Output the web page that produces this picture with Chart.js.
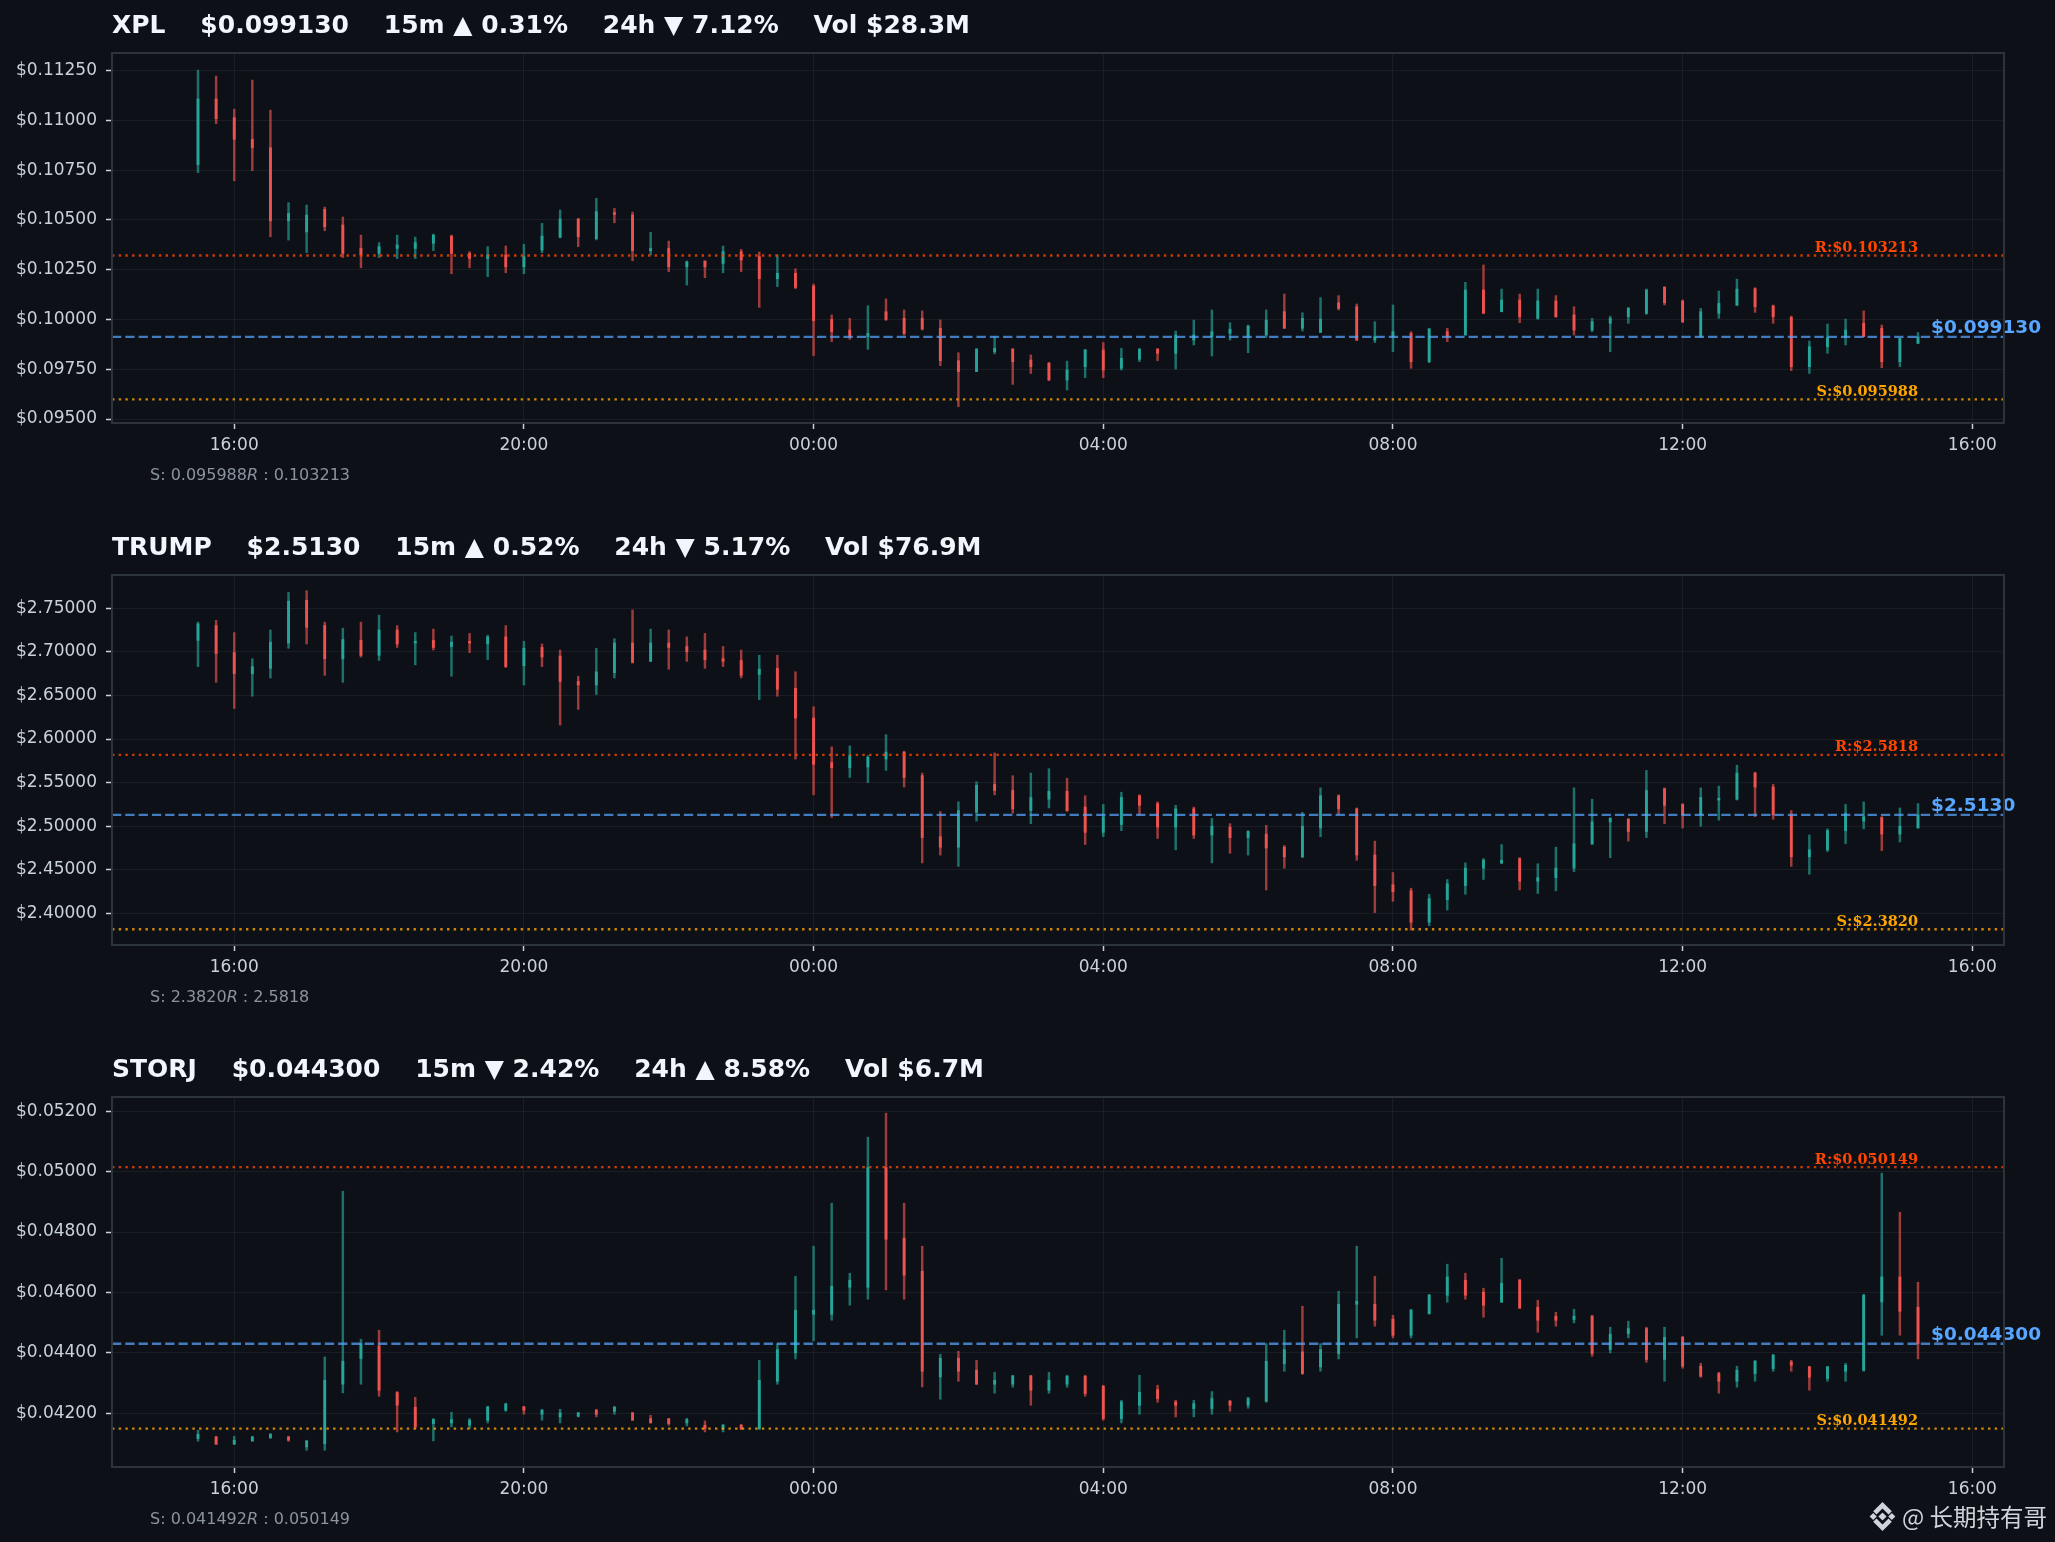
<!DOCTYPE html>
<html>
<head>
<meta charset="utf-8">
<title>XPL / TRUMP / STORJ 15m</title>
<script src="https://cdn.jsdelivr.net/npm/chart.js@4.4.1/dist/chart.umd.min.js"></script>
<style>
  html, body { margin: 0; padding: 0; background: #0d1117; }
  body { position: relative; width: 2055px; height: 1542px; overflow: hidden; font-family: "DejaVu Sans", sans-serif; }
  .panel { position: absolute; left: 0; width: 2055px; height: 522px; }
  .panel canvas { position: absolute; left: 0; top: 0; }
  .title { position: absolute; left: 112px; top: 12px; font-size: 25px; line-height: 1; font-weight: bold; color: #f0f6fc; white-space: pre; }
  .caption { position: absolute; left: 150px; top: 466.5px; font-size: 16px; line-height: 1; color: #8b949e; white-space: pre; }
  .watermark { position: absolute; right: 8px; top: 1502px; display: flex; align-items: center; color: #d0d4da; font-family: "Noto Sans CJK SC", sans-serif; font-size: 23.5px; line-height: 1; }
  .watermark svg { margin-right: 5px; }
</style>
</head>
<body>
<div class="panel" style="top:0px"><canvas id="c0" width="2055" height="522"></canvas><div class="title" id="t0"></div><div class="caption" id="s0"></div></div>
<div class="panel" style="top:522px"><canvas id="c1" width="2055" height="522"></canvas><div class="title" id="t1"></div><div class="caption" id="s1"></div></div>
<div class="panel" style="top:1044px"><canvas id="c2" width="2055" height="522"></canvas><div class="title" id="t2"></div><div class="caption" id="s2"></div></div>
<div class="watermark">
  <svg width="29" height="29" viewBox="14 10 98 106"><g fill="#d0d4da">
    <polygon points="63,48 78,63 63,78 48,63"/>
    <polygon points="16,63 29,50 42,63 29,76"/>
    <polygon points="84,63 97,50 110,63 97,76"/>
    <polygon points="63,10 97,44 85,56 63,34 41,56 29,44"/>
    <polygon points="63,116 97,82 85,70 63,92 41,70 29,82"/>
  </g></svg><span>@ 长期持有哥</span>
</div>
<script>
// 15m candles, index 0 = 15:30, last index = 15:15 next day
const timeTickPos = [2, 18, 34, 50, 66, 82, 98];
const timeTickLabels = ['16:00', '20:00', '00:00', '04:00', '08:00', '12:00', '16:00'];

// XPL
const xplOpen = [0.10778,0.11108,0.11014,0.10905,0.10863,0.10496,0.10440,0.10553,0.10475,0.10357,
  0.10332,0.10357,0.10357,0.10383,0.10419,0.10332,0.10307,0.10324,0.10265,0.10349,
  0.10414,0.10505,0.10406,0.10537,0.10525,0.10346,0.10357,0.10265,0.10294,0.10282,
  0.10341,0.10316,0.10205,0.10232,0.10168,0.10000,0.09947,0.09914,0.10039,0.10006,
  0.10006,0.09956,0.09793,0.09738,0.09838,0.09850,0.09796,0.09780,0.09696,0.09763,
  0.09847,0.09755,0.09800,0.09850,0.09830,0.09897,0.09914,0.09930,0.09914,0.09922,
  0.10039,0.09956,0.09935,0.10084,0.10064,0.09897,0.09914,0.09930,0.09788,0.09939,
  0.09922,0.10148,0.10039,0.10098,0.10006,0.10093,0.10023,0.09947,0.09981,0.10014,
  0.10031,0.10162,0.10093,0.09914,0.10031,0.10073,0.10155,0.10068,0.10011,0.09763,
  0.09863,0.09910,0.09981,0.09956,0.09788,0.09880];
const xplHigh = [0.11253,0.11223,0.11057,0.11203,0.11052,0.10587,0.10575,0.10565,0.10515,0.10424,
  0.10386,0.10424,0.10414,0.10429,0.10424,0.10341,0.10366,0.10369,0.10378,0.10483,
  0.10550,0.10508,0.10609,0.10558,0.10540,0.10438,0.10394,0.10294,0.10294,0.10369,
  0.10352,0.10339,0.10324,0.10255,0.10178,0.10023,0.10006,0.10069,0.10103,0.10048,
  0.10043,0.09998,0.09833,0.09855,0.09914,0.09855,0.09822,0.09785,0.09791,0.09850,
  0.09884,0.09855,0.09855,0.09855,0.09942,0.09997,0.10048,0.09984,0.09972,0.10048,
  0.10128,0.10034,0.10110,0.10120,0.10078,0.09989,0.10073,0.09939,0.09956,0.09956,
  0.10187,0.10274,0.10153,0.10128,0.10153,0.10120,0.10064,0.10006,0.10017,0.10061,
  0.10153,0.10165,0.10098,0.10056,0.10143,0.10203,0.10160,0.10073,0.10017,0.09892,
  0.09977,0.10002,0.10043,0.09972,0.09905,0.09934];
const xplLow = [0.10738,0.10984,0.10697,0.10748,0.10416,0.10399,0.10336,0.10446,0.10311,0.10260,
  0.10311,0.10306,0.10306,0.10346,0.10230,0.10260,0.10215,0.10235,0.10230,0.10336,
  0.10410,0.10366,0.10400,0.10486,0.10295,0.10324,0.10240,0.10173,0.10210,0.10235,
  0.10240,0.10061,0.10165,0.10155,0.09818,0.09889,0.09900,0.09850,0.09995,0.09922,
  0.09947,0.09768,0.09562,0.09738,0.09827,0.09674,0.09729,0.09693,0.09646,0.09708,
  0.09708,0.09746,0.09788,0.09793,0.09751,0.09872,0.09817,0.09897,0.09833,0.09910,
  0.09956,0.09942,0.09935,0.10048,0.09894,0.09884,0.09838,0.09755,0.09783,0.09889,
  0.09922,0.10031,0.10039,0.09984,0.10001,0.10011,0.09922,0.09939,0.09838,0.09981,
  0.10026,0.10073,0.09984,0.09910,0.10006,0.10069,0.10036,0.09981,0.09743,0.09729,
  0.09830,0.09872,0.09914,0.09758,0.09763,0.09880];
const xplClose = [0.11108,0.11009,0.10905,0.10863,0.10496,0.10533,0.10525,0.10466,0.10332,0.10324,
  0.10366,0.10374,0.10386,0.10424,0.10332,0.10307,0.10324,0.10265,0.10316,0.10419,
  0.10505,0.10416,0.10542,0.10528,0.10346,0.10357,0.10265,0.10290,0.10265,0.10341,
  0.10299,0.10205,0.10232,0.10161,0.09994,0.09939,0.09914,0.09930,0.10000,0.09930,
  0.09952,0.09793,0.09738,0.09850,0.09855,0.09788,0.09763,0.09696,0.09746,0.09847,
  0.09746,0.09805,0.09850,0.09830,0.09922,0.09922,0.09939,0.09951,0.09967,0.09997,
  0.09956,0.10006,0.10002,0.10056,0.09897,0.09914,0.09939,0.09788,0.09952,0.09914,
  0.10148,0.10031,0.10098,0.10014,0.10093,0.10014,0.09947,0.09989,0.10006,0.10056,
  0.10148,0.10084,0.09989,0.10039,0.10081,0.10153,0.10064,0.10014,0.09763,0.09863,
  0.09910,0.09947,0.09914,0.09788,0.09905,0.09913];
const xplTicks = [0.095, 0.0975, 0.1, 0.1025, 0.105, 0.1075, 0.11, 0.1125];
const xplLevels = [0.095988, 0.103213, 0.099130]; // support, resistance, last

// TRUMP
const trumpOpen = [2.713,2.730,2.699,2.675,2.681,2.710,2.759,2.730,2.692,2.713,
  2.696,2.725,2.710,2.713,2.706,2.712,2.709,2.717,2.684,2.705,
  2.695,2.666,2.662,2.676,2.710,2.689,2.710,2.706,2.702,2.692,
  2.690,2.674,2.681,2.658,2.624,2.573,2.567,2.568,2.577,2.585,
  2.558,2.488,2.476,2.516,2.548,2.541,2.518,2.531,2.540,2.522,
  2.493,2.502,2.535,2.526,2.499,2.520,2.490,2.499,2.487,2.491,
  2.476,2.465,2.498,2.535,2.520,2.467,2.433,2.426,2.390,2.416,
  2.432,2.452,2.458,2.463,2.437,2.441,2.452,2.480,2.505,2.508,
  2.494,2.543,2.525,2.513,2.530,2.531,2.561,2.545,2.513,2.465,
  2.473,2.495,2.506,2.510,2.491,2.498];
const trumpHigh = [2.734,2.736,2.722,2.692,2.725,2.768,2.770,2.734,2.727,2.734,
  2.742,2.730,2.722,2.726,2.718,2.721,2.719,2.730,2.712,2.709,
  2.702,2.672,2.704,2.715,2.748,2.726,2.725,2.717,2.721,2.706,
  2.702,2.696,2.696,2.677,2.637,2.591,2.592,2.581,2.605,2.586,
  2.561,2.517,2.528,2.551,2.584,2.558,2.561,2.566,2.555,2.535,
  2.525,2.539,2.536,2.528,2.524,2.522,2.509,2.503,2.495,2.501,
  2.478,2.516,2.544,2.536,2.521,2.483,2.447,2.429,2.422,2.439,
  2.458,2.463,2.479,2.464,2.457,2.476,2.544,2.531,2.510,2.509,
  2.564,2.544,2.526,2.544,2.546,2.570,2.562,2.548,2.518,2.490,
  2.497,2.525,2.528,2.511,2.521,2.526];
const trumpLow = [2.683,2.665,2.635,2.649,2.670,2.704,2.709,2.673,2.665,2.694,
  2.690,2.705,2.685,2.702,2.672,2.699,2.691,2.682,2.662,2.683,
  2.616,2.634,2.651,2.670,2.687,2.689,2.680,2.689,2.681,2.683,
  2.670,2.645,2.649,2.577,2.536,2.510,2.556,2.550,2.564,2.545,
  2.458,2.467,2.454,2.506,2.536,2.515,2.503,2.521,2.517,2.479,
  2.488,2.495,2.513,2.486,2.473,2.486,2.458,2.469,2.467,2.427,
  2.452,2.464,2.488,2.514,2.461,2.401,2.414,2.381,2.386,2.404,
  2.422,2.439,2.457,2.427,2.423,2.426,2.448,2.479,2.464,2.483,
  2.487,2.503,2.498,2.500,2.507,2.530,2.511,2.508,2.454,2.445,
  2.471,2.480,2.497,2.472,2.482,2.498];
const trumpClose = [2.732,2.698,2.675,2.683,2.711,2.758,2.728,2.692,2.714,2.696,
  2.725,2.709,2.712,2.705,2.711,2.710,2.717,2.683,2.704,2.694,
  2.666,2.662,2.677,2.710,2.688,2.710,2.705,2.700,2.691,2.689,
  2.673,2.680,2.657,2.624,2.571,2.567,2.581,2.579,2.585,2.556,
  2.487,2.476,2.518,2.547,2.541,2.520,2.533,2.540,2.518,2.493,
  2.511,2.533,2.524,2.499,2.520,2.490,2.500,2.487,2.494,2.475,
  2.465,2.500,2.535,2.520,2.467,2.432,2.425,2.390,2.417,2.434,
  2.452,2.461,2.461,2.437,2.441,2.452,2.480,2.505,2.509,2.494,
  2.541,2.524,2.513,2.533,2.532,2.561,2.545,2.513,2.465,2.473,
  2.495,2.515,2.511,2.491,2.500,2.513];
const trumpTicks = [2.40, 2.45, 2.50, 2.55, 2.60, 2.65, 2.70, 2.75];
const trumpLevels = [2.3820, 2.5818, 2.5130];

// STORJ
const storjOpen = [0.041161,0.041216,0.040973,0.041083,0.041194,0.041216,0.040885,0.040995,0.042960,0.043810,
  0.044229,0.042684,0.042198,0.041657,0.041679,0.041602,0.041768,0.042099,0.042209,0.041966,
  0.041878,0.041900,0.042099,0.042066,0.042011,0.041823,0.041812,0.041679,0.041602,0.041492,
  0.041602,0.041492,0.043059,0.043997,0.045278,0.045278,0.046172,0.046172,0.050135,0.047795,
  0.046702,0.043203,0.043821,0.043423,0.042960,0.042960,0.043236,0.042761,0.042960,0.043225,
  0.042894,0.041823,0.042264,0.042783,0.042375,0.042154,0.042154,0.042397,0.042264,0.042397,
  0.043644,0.044031,0.043534,0.043975,0.045609,0.045609,0.045112,0.044582,0.045300,0.045907,
  0.046404,0.046006,0.045675,0.046404,0.045510,0.045212,0.045101,0.045212,0.044108,0.044638,
  0.044803,0.043777,0.044516,0.043556,0.043313,0.043059,0.043313,0.043479,0.043699,0.043534,
  0.043148,0.043390,0.043423,0.045686,0.046514,0.045510];
const storjHigh = [0.041437,0.041238,0.041238,0.041238,0.041326,0.041238,0.041105,0.043865,0.049351,0.044450,
  0.044748,0.042717,0.042529,0.041823,0.042033,0.041823,0.042231,0.042331,0.042231,0.042132,
  0.042132,0.042033,0.042132,0.042231,0.042033,0.041933,0.041834,0.041834,0.041746,0.041635,
  0.041635,0.043755,0.044307,0.046536,0.047530,0.048954,0.046636,0.051139,0.051934,0.048954,
  0.047530,0.043953,0.044053,0.043755,0.043357,0.043258,0.043258,0.043357,0.043258,0.043258,
  0.042927,0.042430,0.043258,0.042927,0.042430,0.042430,0.042717,0.042430,0.042529,0.044307,
  0.044748,0.045543,0.044307,0.046039,0.047530,0.046536,0.045245,0.045443,0.045940,0.046934,
  0.046636,0.046139,0.047132,0.046437,0.045741,0.045344,0.045443,0.045245,0.044847,0.045046,
  0.044847,0.044847,0.044549,0.043655,0.043357,0.043556,0.043755,0.043953,0.043755,0.043556,
  0.043556,0.043655,0.045940,0.049947,0.048655,0.046338];
const storjLow = [0.041072,0.040973,0.040973,0.041072,0.041161,0.041072,0.040774,0.040774,0.042673,0.042960,
  0.042563,0.041381,0.041492,0.041083,0.041547,0.041492,0.041679,0.042066,0.041966,0.041768,
  0.041679,0.041878,0.041878,0.041966,0.041768,0.041679,0.041602,0.041580,0.041381,0.041381,
  0.041459,0.041459,0.042960,0.043799,0.044395,0.045079,0.045576,0.045775,0.046084,0.045775,
  0.042872,0.042463,0.043059,0.042960,0.042662,0.042861,0.042264,0.042662,0.042861,0.042563,
  0.041768,0.041679,0.041966,0.042364,0.041878,0.041878,0.041966,0.042066,0.042165,0.042364,
  0.043390,0.043291,0.043390,0.043799,0.044494,0.044880,0.044494,0.044494,0.045278,0.045675,
  0.045775,0.045179,0.045675,0.045477,0.044682,0.044880,0.044991,0.043887,0.043997,0.044494,
  0.043688,0.043059,0.043490,0.043192,0.042662,0.042861,0.043059,0.043390,0.043390,0.042761,
  0.043059,0.043059,0.043390,0.044582,0.044582,0.043799];
const storjClose = [0.041304,0.040973,0.041105,0.041216,0.041304,0.041105,0.041083,0.043092,0.043721,0.044307,
  0.042761,0.042264,0.041547,0.041790,0.041790,0.041768,0.042209,0.042309,0.042099,0.042099,
  0.042011,0.042011,0.041966,0.042198,0.041768,0.041679,0.041657,0.041790,0.041492,0.041602,
  0.041481,0.043092,0.044108,0.045410,0.045410,0.046205,0.046404,0.050135,0.047761,0.046569,
  0.043390,0.043821,0.043390,0.042960,0.043092,0.043236,0.042761,0.043092,0.043225,0.042651,
  0.041823,0.042375,0.042695,0.042485,0.042264,0.042320,0.042485,0.042264,0.042485,0.043721,
  0.044108,0.043313,0.044108,0.045609,0.045708,0.045079,0.044582,0.045410,0.045907,0.046514,
  0.045907,0.045576,0.046304,0.045477,0.045079,0.045079,0.045212,0.043975,0.044616,0.044803,
  0.043777,0.044516,0.043556,0.043225,0.043059,0.043423,0.043721,0.043920,0.043589,0.043192,
  0.043534,0.043589,0.045907,0.046514,0.045377,0.044300];
const storjTicks = [0.042, 0.044, 0.046, 0.048, 0.050, 0.052];
const storjLevels = [0.041492, 0.050149, 0.044300];

const panels = [
  { title: 'XPL    $0.099130    15m ▲ 0.31%    24h ▼ 7.12%    Vol $28.3M',
    open: xplOpen, high: xplHigh, low: xplLow, close: xplClose, ticks: xplTicks, levels: xplLevels,
    yMin: 0.09480, yMax: 0.11339, dec: 6 },
  { title: 'TRUMP    $2.5130    15m ▲ 0.52%    24h ▼ 5.17%    Vol $76.9M',
    open: trumpOpen, high: trumpHigh, low: trumpLow, close: trumpClose, ticks: trumpTicks, levels: trumpLevels,
    yMin: 2.3639, yMax: 2.7880, dec: 4 },
  { title: 'STORJ    $0.044300    15m ▼ 2.42%    24h ▲ 8.58%    Vol $6.7M',
    open: storjOpen, high: storjHigh, low: storjLow, close: storjClose, ticks: storjTicks, levels: storjLevels,
    yMin: 0.04022, yMax: 0.05247, dec: 6 }
];

const X_MIN = -4.75, X_MAX = 99.75;
const UP = '#26a69a', DOWN = '#ef5350';
const UP_WICK = 'rgba(38,166,154,0.65)', DOWN_WICK = 'rgba(239,83,80,0.65)';
const TICK = '#c9d1d9', GRID = 'rgba(48,54,61,0.35)';

Chart.defaults.font.family = '"DejaVu Sans", sans-serif';
Chart.defaults.color = TICK;

// box around the plot area
const frame = {
  id: 'frame',
  afterDraw(chart) {
    const { ctx, chartArea: a } = chart;
    ctx.save();
    ctx.strokeStyle = '#2d333b';
    ctx.lineWidth = 2;
    ctx.strokeRect(a.left, a.top, a.right - a.left, a.bottom - a.top);
    ctx.restore();
  }
};

function drawPanel(k, p) {
  const n = p.open.length;
  const idx = p.open.map((v, i) => i);
  const rising = idx.map(i => p.close[i] >= p.open[i]);
  const [sup, res, last] = p.levels;
  const level = v => [{ x: X_MIN, y: v }, { x: X_MAX, y: v }];

  document.getElementById('t' + k).textContent = p.title;
  document.getElementById('s' + k).innerHTML =
    'S: ' + sup.toFixed(p.dec) + '<i>R</i> : ' + res.toFixed(p.dec);

  // S/R and last price text next to the level lines
  const levelLabels = {
    id: 'levelLabels',
    afterDatasetsDraw(chart) {
      const { ctx, scales: { x, y } } = chart;
      ctx.save();
      ctx.textBaseline = 'alphabetic';
      ctx.font = 'bold 14.5px "DejaVu Serif", serif';
      ctx.textAlign = 'right';
      ctx.fillStyle = '#ff4500';
      ctx.fillText('R:$' + res.toFixed(p.dec), x.getPixelForValue(n - 1), y.getPixelForValue(res) - 3.5);
      ctx.fillStyle = '#ffa500';
      ctx.fillText('S:$' + sup.toFixed(p.dec), x.getPixelForValue(n - 1), y.getPixelForValue(sup) - 3.5);
      ctx.font = 'bold 18.5px "DejaVu Sans", sans-serif';
      ctx.textAlign = 'left';
      ctx.fillStyle = '#58a6ff';
      ctx.fillText('$' + last.toFixed(p.dec), x.getPixelForValue(n - 1 + 0.72), y.getPixelForValue(last) - 4);
      ctx.restore();
    }
  };

  new Chart(document.getElementById('c' + k), {
    type: 'bar',
    data: {
      datasets: [
        { type: 'line', data: level(res), borderColor: 'rgba(255,69,0,0.8)', borderWidth: 2.4,
          borderDash: [2.4, 4.3], pointRadius: 0, order: 0 },
        { type: 'line', data: level(sup), borderColor: 'rgba(255,165,0,0.8)', borderWidth: 2.4,
          borderDash: [2.4, 4.3], pointRadius: 0, order: 0 },
        { type: 'line', data: level(last), borderColor: 'rgba(88,166,255,0.72)', borderWidth: 2.3,
          borderDash: [9.3, 4], pointRadius: 0, order: 0 },
        { data: idx.map(i => ({ x: i, y: [p.open[i], p.close[i]] })),
          backgroundColor: rising.map(u => u ? UP : DOWN),
          barThickness: 2.2, minBarLength: 1, grouped: false, order: 1 },
        { data: idx.map(i => ({ x: i, y: [p.low[i], p.high[i]] })),
          backgroundColor: rising.map(u => u ? UP_WICK : DOWN_WICK),
          barThickness: 1.8, grouped: false, order: 2 }
      ]
    },
    options: {
      responsive: false,
      animation: false,
      devicePixelRatio: 1,
      layout: { padding: { left: 0, right: 51, top: 53, bottom: 0 } },
      plugins: { legend: { display: false }, tooltip: { enabled: false } },
      scales: {
        x: {
          type: 'linear', min: X_MIN, max: X_MAX, offset: false,
          afterBuildTicks: s => { s.ticks = timeTickPos.map(v => ({ value: v })); },
          afterFit: s => { s.height = 99; },
          ticks: {
            autoSkip: false, maxRotation: 0, padding: 6, color: TICK, font: { size: 17 },
            callback: v => timeTickLabels[timeTickPos.indexOf(v)]
          },
          grid: { color: GRID, offset: false, tickColor: TICK, tickLength: 6, tickWidth: 1.5 },
          border: { display: false }
        },
        y: {
          type: 'linear', min: p.yMin, max: p.yMax,
          afterBuildTicks: s => { s.ticks = p.ticks.map(v => ({ value: v })); },
          afterFit: s => { s.width = 112; },
          ticks: { padding: 9, color: TICK, font: { size: 17 }, callback: v => '$' + v.toFixed(5) },
          grid: { color: GRID, tickColor: TICK, tickLength: 6, tickWidth: 1.5 },
          border: { display: false }
        }
      }
    },
    plugins: [frame, levelLabels]
  });
}

panels.forEach((p, k) => drawPanel(k, p));
</script>
</body>
</html>
